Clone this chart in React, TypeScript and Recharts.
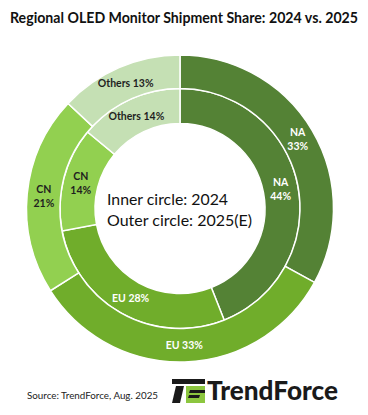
import React from "react";
import { PieChart, Pie, Cell } from "recharts";

const regions = ["NA", "EU", "CN", "Others"];
const share2024 = [44, 28, 14, 14];
const share2025 = [33, 33, 21, 13];
const regionColors = ["#548235", "#70AD2B", "#92D050", "#C5E0B4"];
const labelColors = ["#ffffff", "#ffffff", "#1f1f1f", "#1f1f1f"];
// labels drawn on two lines (name above value)
const stackedLabels = ["NA", "CN"];

const inner = regions.map((name, i) => ({ name, value: share2024[i] }));
const outer = regions.map((name, i) => ({ name, value: share2025[i] }));

const RADIAN = Math.PI / 180;
const FONT = "Lato, 'Open Sans', sans-serif";

const renderLabel = (props: any) => {
  const { cx, cy, midAngle, innerRadius, outerRadius, index } = props;
  const name = regions[index];
  const value = props.value;
  const r = (innerRadius + outerRadius) / 2;
  const x = cx + r * Math.cos(-midAngle * RADIAN);
  const y = cy + r * Math.sin(-midAngle * RADIAN);
  const fill = labelColors[index];
  const common = {
    textAnchor: "middle" as const,
    dominantBaseline: "central" as const,
    fill,
    fontFamily: FONT,
    fontWeight: 700,
    fontSize: 10.5,
  };
  if (stackedLabels.includes(name)) {
    return (
      <g>
        <text x={x} y={y - 7} {...common}>
          {name}
        </text>
        <text x={x} y={y + 7} {...common}>
          {value}%
        </text>
      </g>
    );
  }
  return (
    <text x={x} y={y} {...common}>
      {name} {value}%
    </text>
  );
};

const App = () => {
  return (
    <div
      style={{
        position: "absolute",
        left: 0,
        top: 0,
        width: 368,
        height: 415,
        background: "#fff",
      }}
    >
      <PieChart
        width={368}
        height={415}
        margin={{ top: 0, right: 0, bottom: 0, left: 0 }}
      >
        <Pie
          data={inner}
          dataKey="value"
          cx={180}
          cy={208.5}
          innerRadius={85}
          outerRadius={120}
          startAngle={90}
          endAngle={-270}
          stroke="#fff"
          strokeWidth={1.5}
          label={renderLabel}
          labelLine={false}
          isAnimationActive={false}
        >
          {inner.map((d, i) => (
            <Cell key={d.name} fill={regionColors[i]} />
          ))}
        </Pie>
        <Pie
          data={outer}
          dataKey="value"
          cx={180}
          cy={208.5}
          innerRadius={120}
          outerRadius={153.5}
          startAngle={90}
          endAngle={-270}
          stroke="#fff"
          strokeWidth={1.5}
          label={renderLabel}
          labelLine={false}
          isAnimationActive={false}
        >
          {outer.map((d, i) => (
            <Cell key={d.name} fill={regionColors[i]} />
          ))}
        </Pie>
      </PieChart>
      <svg
        width={368}
        height={415}
        style={{ position: "absolute", left: 0, top: 0, pointerEvents: "none" }}
      >
        <text
          x={10}
          y={23}
          fontFamily={FONT}
          fontWeight={700}
          fontSize={14.5}
          fill="#111"
          textLength={348}
          lengthAdjust="spacingAndGlyphs"
        >
          Regional OLED Monitor Shipment Share: 2024 vs. 2025
        </text>
        <text
          x={107}
          y={205}
          fontFamily={FONT}
          fontSize={16}
          fill="#111"
          textLength={121}
          lengthAdjust="spacingAndGlyphs"
        >
          Inner circle: 2024
        </text>
        <text
          x={107}
          y={226}
          fontFamily={FONT}
          fontSize={16}
          fill="#111"
          textLength={145}
          lengthAdjust="spacingAndGlyphs"
        >
          Outer circle: 2025(E)
        </text>
        <text
          x={27}
          y={399}
          fontFamily={FONT}
          fontSize={10}
          fill="#222"
          textLength={131}
          lengthAdjust="spacingAndGlyphs"
        >
          Source: TrendForce, Aug. 2025
        </text>
        {/* logo mark */}
        <polygon points="172,379 205,379 205,384 172,384" fill="#1a1a1a" />
        <polygon points="176,386 184,386 180,403 172,403" fill="#1a1a1a" />
        <rect x={186} y={386} width={19} height={17} fill="#8CC63F" />
        <polygon points="190,390 205,390 205,393 189,393" fill="#1a1a1a" />
        <polygon points="189,395 200,395 199,398 188,398" fill="#1a1a1a" />
        <text
          x={207}
          y={400}
          fontFamily={FONT}
          fontWeight={900}
          fontSize={26}
          fill="#1a1a1a"
          textLength={131}
          lengthAdjust="spacingAndGlyphs"
        >
          TrendForce
        </text>
      </svg>
    </div>
  );
};

export default App;
